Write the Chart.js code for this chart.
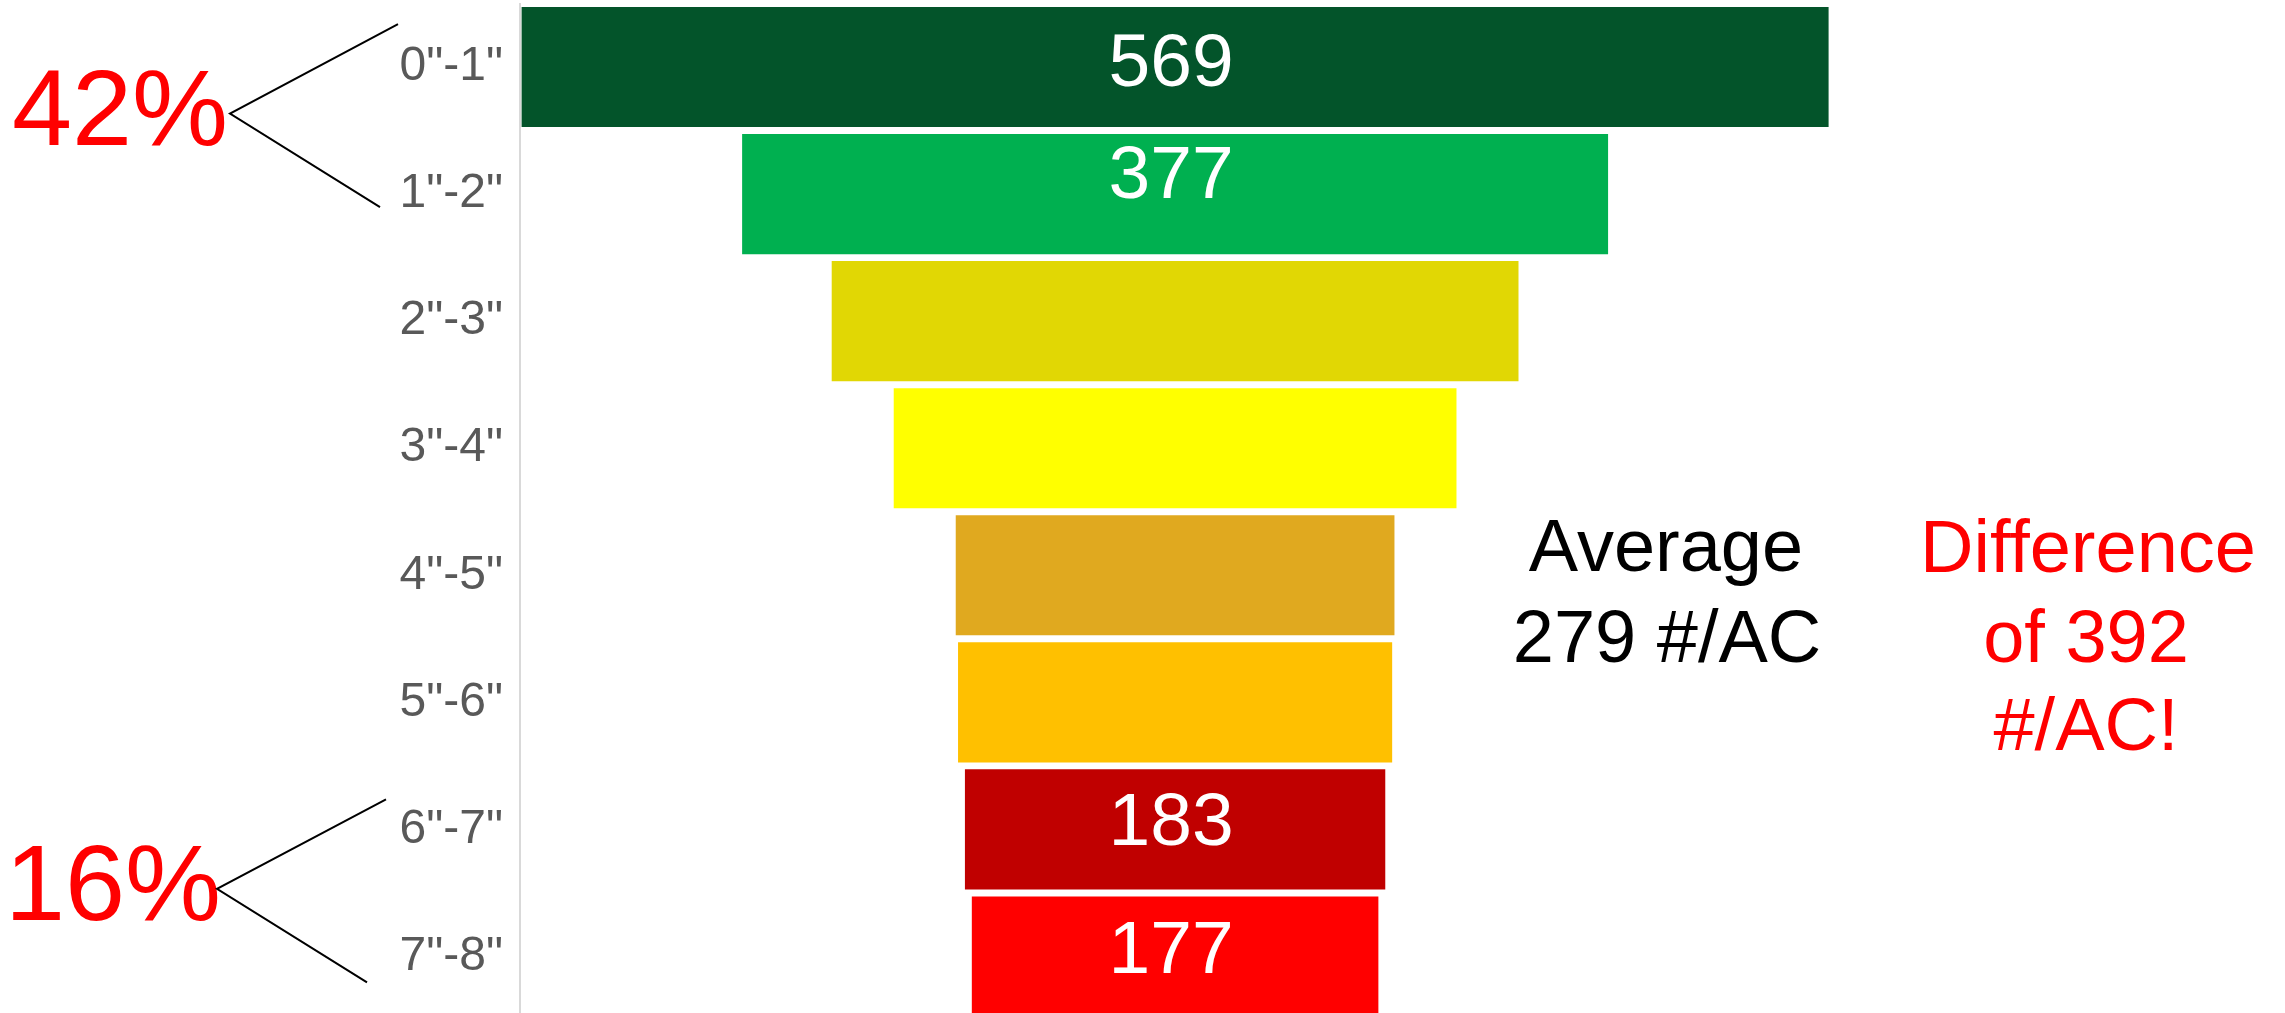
<!DOCTYPE html>
<html>
<head>
<meta charset="utf-8">
<script src="https://cdn.jsdelivr.net/npm/chart.js@4/dist/chart.umd.min.js"></script>
<style>
  html, body { margin: 0; padding: 0; background: #ffffff; overflow: hidden; }
  #wrap { width: 2285px; height: 1020px; }
</style>
</head>
<body>
<div id="wrap"><canvas id="c" width="2285" height="1020"></canvas></div>
<script>
// ---- data ----
const categories = ['0"-1"', '1"-2"', '2"-3"', '3"-4"', '4"-5"', '5"-6"', '6"-7"', '7"-8"'];
const counts = [569, 377, 299, 245, 191, 189, 183, 177];
const barColors = ['#03542A', '#00B050', '#E1D704', '#FFFF00', '#E0A91F', '#FFC000', '#C00000', '#FF0000'];
const labelled = [true, true, false, false, false, false, true, true];

const FONT = '"Liberation Sans", Arial, Helvetica, sans-serif';

const total = counts.reduce((a, b) => a + b, 0);
const average = Math.round(total / counts.length);
const topPct = Math.round((counts[0] + counts[1]) / total * 100);
const bottomPct = Math.round((counts[6] + counts[7]) / total * 100);
const difference = counts[0] - counts[counts.length - 1];

const annotationPlugin = {
  id: 'funnelAnnotations',
  afterDatasetsDraw(chart, args, opts) {
    const ctx = chart.ctx;
    const meta = chart.getDatasetMeta(0);
    const ys = chart.scales.y;
    ctx.save();
    // value labels inside bars
    ctx.font = '75px ' + FONT;
    ctx.fillStyle = '#FFFFFF';
    ctx.textAlign = 'center';
    ctx.textBaseline = 'alphabetic';
    meta.data.forEach((el, i) => {
      if (!labelled[i]) return;
      const cx = (el.x + el.base) / 2;
      ctx.fillText(String(counts[i]), cx - 4, el.y + opts.labelDy[i]);
    });

    // bracket annotations
    const c = (i) => ys.getPixelForValue(i);
    function bracket(text, tx, tyBase, vx, vy, ux, uy, lx, ly) {
      ctx.font = '108px ' + FONT;
      ctx.fillStyle = '#FF0000';
      ctx.textAlign = 'center';
      ctx.fillText(text, tx, tyBase);
      ctx.strokeStyle = '#000000';
      ctx.lineWidth = 2;
      ctx.beginPath();
      ctx.moveTo(ux, uy);
      ctx.lineTo(vx, vy);
      ctx.lineTo(lx, ly);
      ctx.stroke();
    }
    const m1 = (c(0) + c(1)) / 2;
    bracket(topPct + '%', 120, m1 + 14, 230, m1 - 17, 398, c(0) - 43, 380, c(1) + 13);
    const m2 = (c(6) + c(7)) / 2;
    bracket(bottomPct + '%', 113, m2 + 27, 217, m2 - 4, 386, c(6) - 30, 367, c(7) + 26);

    // text blocks
    ctx.font = '74px ' + FONT;
    ctx.textAlign = 'center';
    ctx.fillStyle = '#000000';
    ctx.fillText('Average', 1666, 571);
    ctx.fillText(average + ' #/AC', 1667, 662);
    ctx.fillStyle = '#FF0000';
    ctx.fillText('Difference', 2088, 572);
    ctx.fillText('of ' + difference, 2086, 662);
    ctx.fillText('#/AC!', 2086, 750);
    ctx.restore();
  }
};

new Chart(document.getElementById('c'), {
  type: 'bar',
  data: {
    labels: categories,
    datasets: [{
      data: counts.map(v => [-v / 2, v / 2]),
      backgroundColor: barColors,
      borderWidth: 0,
      categoryPercentage: 1,
      barPercentage: 0.945
    }]
  },
  options: {
    indexAxis: 'y',
    responsive: false,
    animation: false,
    layout: { padding: { top: 3.5, left: 0, right: 0, bottom: 0 } },
    plugins: {
      legend: { display: false },
      tooltip: { enabled: false },
      funnelAnnotations: { labelDy: [19, 4, 17, 17, 17, 17, 16, 17] }
    },
    scales: {
      x: {
        display: false,
        min: -285.2,
        max: 483.2
      },
      y: {
        offset: true,
        grid: { display: false, drawTicks: false },
        border: { display: true, color: '#D9D9D9', width: 2 },
        ticks: {
          padding: 17,
          color: '#595959',
          font: { family: FONT, size: 48 }
        },
        afterFit(scale) {
          scale.width = 520;
          scale.paddingTop = 0;
          scale.paddingBottom = 0;
        }
      }
    }
  },
  plugins: [annotationPlugin]
});
</script>
</body>
</html>
